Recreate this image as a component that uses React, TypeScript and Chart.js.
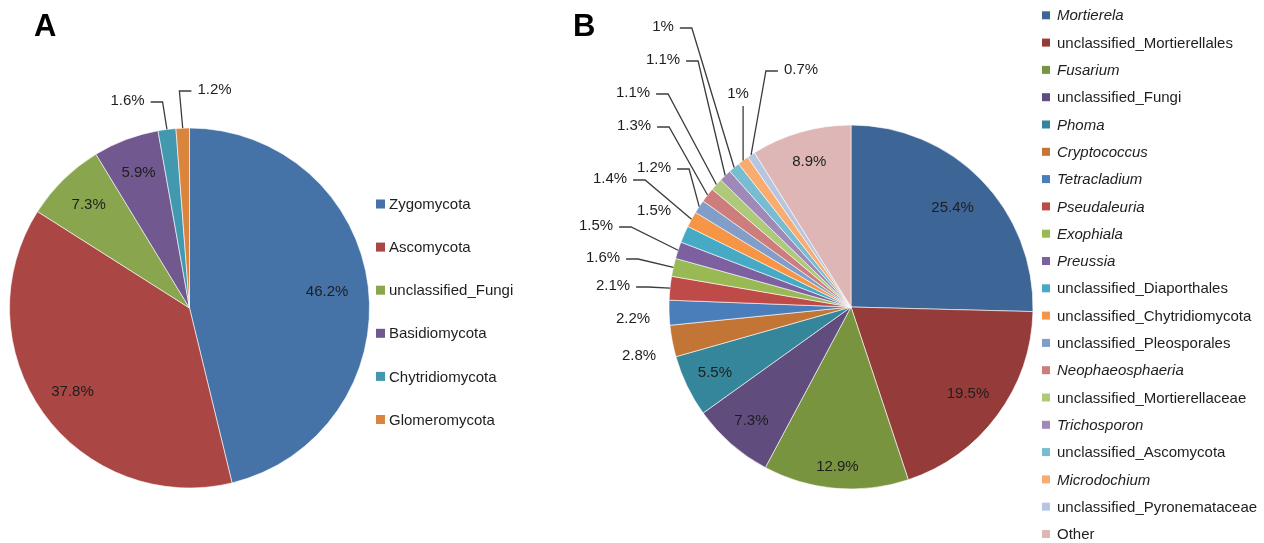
import React, { useEffect, useRef } from 'react';
import { Chart, registerables } from 'chart.js';

Chart.register(...registerables);

const W = 1264;
const H = 543;
const FONT = '"Liberation Sans", Arial, sans-serif';
const TEXT = '#1e1e1e';

// ---------- Panel A: phyla ----------
const phylaLabels = ['Zygomycota', 'Ascomycota', 'unclassified_Fungi', 'Basidiomycota', 'Chytridiomycota', 'Glomeromycota'];
const phylaValues = [46.2, 37.8, 7.3, 5.9, 1.6, 1.2];
const phylaItalic = [false, false, false, false, false, false];
const phylaColors = ['#4572A7', '#AA4643', '#89A54E', '#71588F', '#4198AF', '#DB843D'];

// ---------- Panel B: genera ----------
const genusLabels = [
  'Mortierela', 'unclassified_Mortierellales', 'Fusarium', 'unclassified_Fungi', 'Phoma',
  'Cryptococcus', 'Tetracladium', 'Pseudaleuria', 'Exophiala', 'Preussia',
  'unclassified_Diaporthales', 'unclassified_Chytridiomycota', 'unclassified_Pleosporales', 'Neophaeosphaeria', 'unclassified_Mortierellaceae',
  'Trichosporon', 'unclassified_Ascomycota', 'Microdochium', 'unclassified_Pyronemataceae', 'Other',
];
const genusValues = [25.4, 19.5, 12.9, 7.3, 5.5, 2.8, 2.2, 2.1, 1.6, 1.5, 1.5, 1.4, 1.2, 1.3, 1.1, 1.1, 1, 1, 0.7, 8.9];
const genusItalic = [true, false, true, false, true, true, true, true, true, true, false, false, false, true, false, true, false, true, false, false];
const genusColors = [
  '#3D6596', '#953C3A', '#78943F', '#614C7E', '#35869B',
  '#C27535', '#4A7EBB', '#BE4B48', '#98B954', '#7D60A0',
  '#46AAC5', '#F69546', '#809EC8', '#CD7E7C', '#AFC97A',
  '#9E89B8', '#77BCD0', '#F9AB70', '#B7C6E0', '#DEB6B5',
];

// label layout for small slices: offset of label centre from pie centre (px)
const phylaOutside: Record<number, [number, number]> = {
  4: [-62, -207],
  5: [25, -218],
};
const genusOutside: Record<number, [number, number]> = {
  5: [-212, 49],
  6: [-218, 12],
  7: [-238, -21],
  8: [-248, -49],
  9: [-255, -81],
  10: [-197, -96],
  11: [-241, -128],
  12: [-197, -139],
  13: [-217, -181],
  14: [-218, -214],
  15: [-188, -247],
  16: [-188, -280],
  17: [-113, -213],
  18: [-50, -237],
};
// radial fraction for inside labels (default per panel, with a few overrides)
const phylaInsideK: Record<number, number> = { 0: 0.77 };
const genusInsideK: Record<number, number> = { 0: 0.78, 1: 0.8, 2: 0.88 };

type Panel = {
  letter: string;
  letterX: number;
  letterY: number;
  cx: number;
  cy: number;
  r: number;
  labels: string[];
  values: number[];
  italic: boolean[];
  colors: string[];
  insideK: number;
  insideKOverride: Record<number, number>;
  outside: Record<number, [number, number]>;
  sqX: number;
  sqSize: number;
  textX: number;
  legY0: number;
  legStep: number;
};

const panelA: Panel = {
  letter: 'A', letterX: 34, letterY: 36,
  cx: 189, cy: 308, r: 180,
  labels: phylaLabels, values: phylaValues, italic: phylaItalic, colors: phylaColors,
  insideK: 0.8, insideKOverride: phylaInsideK, outside: phylaOutside,
  sqX: 376, sqSize: 9, textX: 389, legY0: 204, legStep: 43.1,
};

const panelB: Panel = {
  letter: 'B', letterX: 573, letterY: 36,
  cx: 851, cy: 307, r: 182,
  labels: genusLabels, values: genusValues, italic: genusItalic, colors: genusColors,
  insideK: 0.83, insideKOverride: genusInsideK, outside: genusOutside,
  sqX: 1042, sqSize: 8, textX: 1057, legY0: 15.3, legStep: 27.3,
};

const fmt = (v: number) => `${v}%`;

function makePlugin(p: Panel) {
  return {
    id: 'annot' + p.letter,
    afterDatasetsDraw(chart: any) {
      const ctx: CanvasRenderingContext2D = chart.ctx;
      const meta = chart.getDatasetMeta(0);
      ctx.save();
      ctx.font = `15px ${FONT}`;
      ctx.fillStyle = TEXT;
      ctx.textAlign = 'center';
      ctx.textBaseline = 'middle';
      meta.data.forEach((arc: any, i: number) => {
        const { x, y, startAngle, endAngle, outerRadius } = arc.getProps(
          ['x', 'y', 'startAngle', 'endAngle', 'outerRadius'], true);
        const mid = (startAngle + endAngle) / 2;
        const txt = fmt(p.values[i]);
        const off = p.outside[i];
        if (!off) {
          const k = p.insideKOverride[i] ?? p.insideK;
          const rr = outerRadius * k;
          ctx.fillText(txt, x + Math.cos(mid) * rr, y + Math.sin(mid) * rr);
          return;
        }
        const lx = x + off[0];
        const ly = y + off[1];
        ctx.fillText(txt, lx, ly);
        const px = x + Math.cos(mid) * outerRadius;
        const py = y + Math.sin(mid) * outerRadius;
        const tw = ctx.measureText(txt).width;
        const left = lx - tw / 2;
        const right = lx + tw / 2;
        const top = ly - 8;
        const bottom = ly + 8;
        const ddx = Math.max(left - px, 0, px - right);
        const ddy = Math.max(top - py, 0, py - bottom);
        if (Math.hypot(ddx, ddy) <= 22) return;
        ctx.save();
        ctx.strokeStyle = '#3c3c3c';
        ctx.lineWidth = 1.3;
        ctx.beginPath();
        if (px >= left && px <= right) {
          ctx.moveTo(px, bottom + 4);
          ctx.lineTo(px, py);
        } else if (px > right) {
          ctx.moveTo(right + 6, ly + 1);
          ctx.lineTo(right + 18, ly + 1);
          ctx.lineTo(px, py);
        } else {
          ctx.moveTo(left - 6, ly + 1);
          ctx.lineTo(left - 18, ly + 1);
          ctx.lineTo(px, py);
        }
        ctx.stroke();
        ctx.restore();
      });

      // legend
      ctx.textAlign = 'left';
      p.labels.forEach((lab, i) => {
        const yy = p.legY0 + i * p.legStep;
        ctx.fillStyle = p.colors[i];
        ctx.fillRect(p.sqX, yy - p.sqSize / 2, p.sqSize, p.sqSize);
        ctx.fillStyle = TEXT;
        ctx.font = `${p.italic[i] ? 'italic ' : ''}15px ${FONT}`;
        ctx.fillText(lab, p.textX, yy + 1);
      });

      // panel letter
      ctx.fillStyle = '#000';
      ctx.font = `bold 31px ${FONT}`;
      ctx.textBaseline = 'alphabetic';
      ctx.fillText(p.letter, p.letterX, p.letterY);
      ctx.restore();
    },
  };
}

function usePie(ref: React.RefObject<HTMLCanvasElement>, p: Panel) {
  useEffect(() => {
    if (!ref.current) return;
    const R = p.r + 10;
    const chart = new Chart(ref.current, {
      type: 'pie',
      data: {
        labels: p.labels,
        datasets: [{
          data: p.values,
          backgroundColor: p.colors,
          borderColor: 'rgba(255,255,255,0.75)',
          borderWidth: 0.8,
          hoverOffset: 0,
        }],
      },
      options: {
        responsive: false,
        animation: false,
        radius: p.r,
        layout: {
          padding: {
            left: p.cx - R,
            right: W - (p.cx + R),
            top: p.cy - R,
            bottom: H - (p.cy + R),
          },
        },
        plugins: {
          legend: { display: false },
          tooltip: { enabled: false },
        },
        events: [],
      } as any,
      plugins: [makePlugin(p)],
    });
    return () => chart.destroy();
  }, []);
}

export default function App() {
  const refA = useRef<HTMLCanvasElement>(null);
  const refB = useRef<HTMLCanvasElement>(null);
  usePie(refA, panelA);
  usePie(refB, panelB);
  const cs: React.CSSProperties = { position: 'absolute', left: 0, top: 0, width: W, height: H };
  return (
    <div style={{ position: 'absolute', left: 0, top: 0, width: W, height: H, background: '#fff', overflow: 'hidden' }}>
      <canvas ref={refA} width={W} height={H} style={cs} />
      <canvas ref={refB} width={W} height={H} style={cs} />
    </div>
  );
}
